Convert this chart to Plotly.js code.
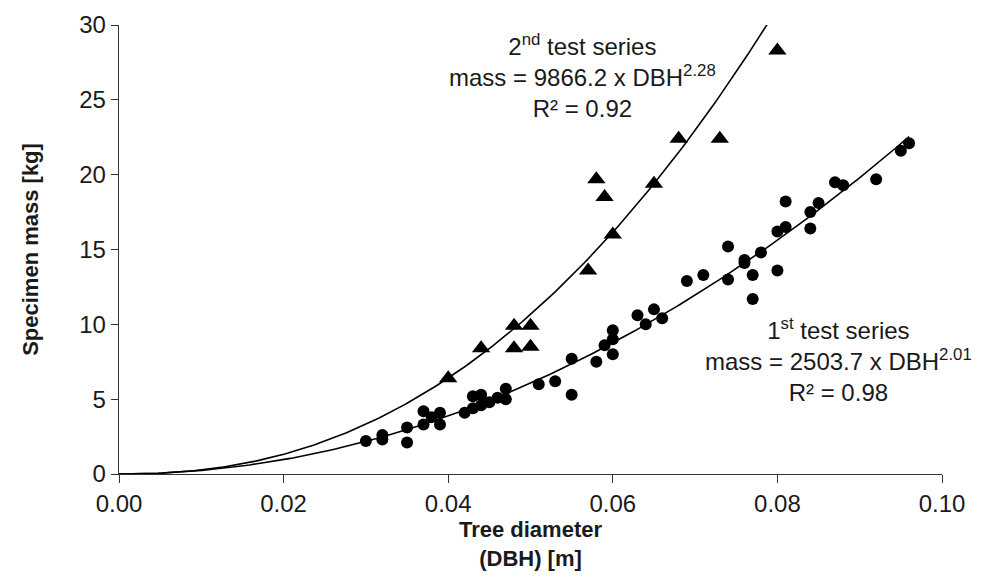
<!DOCTYPE html>
<html>
<head>
<meta charset="utf-8">
<script src="https://cdn.plot.ly/plotly-3.0.1.min.js"></script>
<style>html,body{margin:0;padding:0;background:#fff;}#chart{width:986px;height:588px;}</style>
</head>
<body>
<div id="chart"></div>
<script>
// 1st test series (circles)
const dbh1 = [0.030,0.032,0.032,0.035,0.035,0.037,0.037,0.038,0.039,0.039,0.042,0.043,0.043,0.044,0.044,0.045,0.046,0.047,0.047,0.051,0.053,0.055,0.055,0.058,0.059,0.060,0.060,0.060,0.063,0.064,0.065,0.066,0.069,0.071,0.074,0.074,0.076,0.076,0.077,0.077,0.078,0.080,0.080,0.081,0.081,0.084,0.085,0.084,0.087,0.088,0.092,0.095,0.096];
const mass1 = [2.2,2.6,2.3,3.1,2.1,4.2,3.3,3.8,4.1,3.3,4.1,5.2,4.4,5.3,4.6,4.8,5.1,5.7,5.0,6.0,6.2,7.7,5.3,7.5,8.6,9.6,9.0,8.0,10.6,10.0,11.0,10.4,12.9,13.3,15.2,13.0,14.3,14.1,13.3,11.7,14.8,16.2,13.6,16.5,18.2,17.5,18.1,16.4,19.5,19.3,19.7,21.6,22.1];
// 2nd test series (triangles)
const dbh2 = [0.040,0.044,0.048,0.048,0.050,0.050,0.057,0.058,0.059,0.060,0.065,0.068,0.073,0.080];
const mass2 = [6.4,8.4,9.9,8.4,9.9,8.5,13.6,19.7,18.5,16.0,19.4,22.4,22.4,28.3];
// Power trendlines as printed on the chart
const fit1 = {a: 2503.7, b: 2.01, xmax: 0.096};
const fit2 = {a: 9866.2, b: 2.28, xmax: 0.0790};
const xTicks = [0,0.02,0.04,0.06,0.08,0.10];
const xTickText = ['0.00','0.02','0.04','0.06','0.08','0.10'];
const yTicks = [0,5,10,15,20,25,30];

function curve(f){
  const xs=[], ys=[];
  const n=200;
  for(let i=0;i<=n;i++){const x=f.xmax*i/n; xs.push(x); ys.push(f.a*Math.pow(x,f.b));}
  return {xs, ys};
}
const c1 = curve(fit1), c2 = curve(fit2);
const font = 'Liberation Sans, Arial, sans-serif';
const txt = '#1a1a1a';
const traces = [
  {x:c1.xs, y:c1.ys, mode:'lines', line:{color:'#000', width:1.6}, hoverinfo:'skip'},
  {x:c2.xs, y:c2.ys, mode:'lines', line:{color:'#000', width:1.6}, hoverinfo:'skip'},
  {x:dbh1, y:mass1, mode:'markers', marker:{symbol:'circle', size:12, color:'#000'}},
  {x:dbh2, y:mass2, mode:'markers', marker:{symbol:'triangle-up', size:16, color:'#000'}}
];
const layout = {
  width:986, height:588, showlegend:false,
  paper_bgcolor:'#fff', plot_bgcolor:'#fff',
  margin:{l:119, r:44, t:25, b:114},
  font:{family:font, color:txt},
  xaxis:{range:[0,0.10], tickvals:xTicks, ticktext:xTickText, showgrid:false, zeroline:false,
    showline:true, linecolor:'#333', linewidth:1.3, ticks:'outside', ticklen:8, tickcolor:'#333',
    tickfont:{size:24, family:font, color:txt},
    title:{text:'<b>Tree diameter<br>(DBH) [m]</b>', font:{size:22, family:font, color:txt}, standoff:4}},
  yaxis:{range:[0,30], tickvals:yTicks, showgrid:false, zeroline:false,
    showline:true, linecolor:'#333', linewidth:1.3, ticks:'outside', ticklen:7, tickcolor:'#333',
    tickfont:{size:24, family:font, color:txt},
    title:{text:'<b>Specimen mass [kg]</b>', font:{size:22, family:font, color:txt}, standoff:34}},
  annotations:[
    {x:0.0563, y:26.6, xref:'x', yref:'y', showarrow:false, align:'center',
     text:'2<sup>nd</sup> test series<br>mass = 9866.2 x DBH<sup>2.28</sup><br>R² = 0.92',
     font:{size:24, family:font, color:txt}},
    {x:0.0874, y:7.6, xref:'x', yref:'y', showarrow:false, align:'center',
     text:'1<sup>st</sup> test series<br>mass = 2503.7 x DBH<sup>2.01</sup><br>R² = 0.98',
     font:{size:24, family:font, color:txt}}
  ]
};
Plotly.newPlot('chart', traces, layout, {displayModeBar:false, staticPlot:true});
</script>
</body>
</html>
